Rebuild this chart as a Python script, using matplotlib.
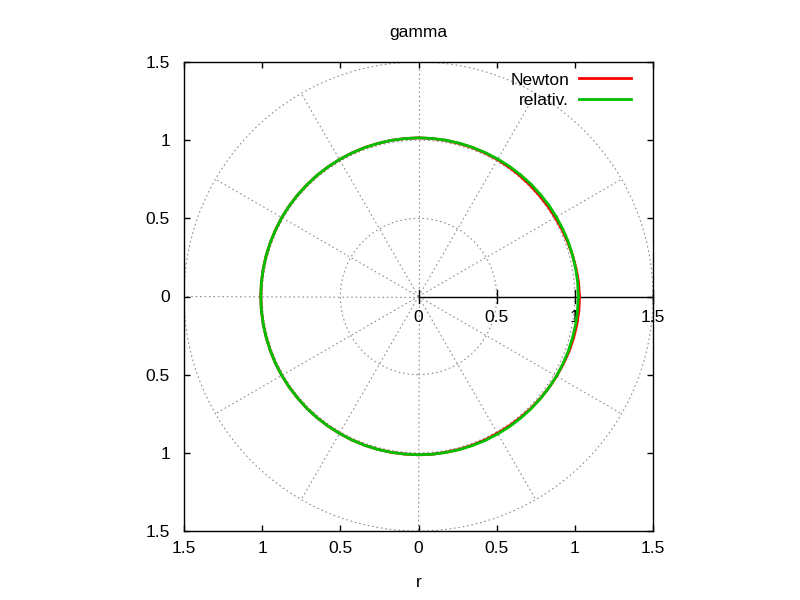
import numpy as np
import matplotlib
matplotlib.use('Agg')
import matplotlib.pyplot as plt
from matplotlib.patches import Circle
from matplotlib.ticker import FuncFormatter

# orbit samples (angle in degrees, radius), every 5 degrees
theta_deg = list(range(0, 360, 5))
r_newton = [1.030, 1.028, 1.024, 1.020, 1.016, 1.013, 1.010, 1.009, 1.008, 1.008, 1.009, 1.010,
            1.011, 1.012, 1.013, 1.013, 1.014, 1.014, 1.015, 1.014, 1.014, 1.013, 1.013, 1.012,
            1.012, 1.011, 1.011, 1.010, 1.010, 1.010, 1.010, 1.009, 1.009, 1.009, 1.009, 1.009,
            1.009, 1.009, 1.009, 1.009, 1.009, 1.010, 1.010, 1.010, 1.010, 1.011, 1.011, 1.011,
            1.011, 1.012, 1.012, 1.012, 1.012, 1.012, 1.013, 1.013, 1.012, 1.012, 1.011, 1.011,
            1.010, 1.011, 1.012, 1.014, 1.016, 1.018, 1.020, 1.022, 1.025, 1.027, 1.029, 1.030]
r_relativ = [1.022, 1.022, 1.021, 1.020, 1.020, 1.019, 1.018, 1.018, 1.017, 1.017, 1.016, 1.016,
             1.015, 1.015, 1.015, 1.015, 1.015, 1.015, 1.015, 1.014, 1.014, 1.013, 1.013, 1.012,
             1.012, 1.011, 1.011, 1.010, 1.010, 1.010, 1.010, 1.009, 1.009, 1.009, 1.009, 1.009,
             1.009, 1.009, 1.009, 1.009, 1.009, 1.010, 1.010, 1.010, 1.010, 1.011, 1.011, 1.011,
             1.011, 1.012, 1.012, 1.012, 1.012, 1.012, 1.012, 1.013, 1.013, 1.014, 1.014, 1.015,
             1.015, 1.016, 1.016, 1.017, 1.017, 1.018, 1.019, 1.019, 1.020, 1.020, 1.021, 1.021]

grid_radii = [0.5, 1.0, 1.5]
spoke_deg = [0, 30, 60, 90, 120, 150, 180, 210, 240, 270, 300, 330]
polar_ticks = [0, 0.5, 1, 1.5]
ticks = [-1.5, -1, -0.5, 0, 0.5, 1, 1.5]


def to_xy(deg, r):
    t = np.radians(np.append(deg, deg[0]))
    r = np.append(r, r[0])
    return r * np.cos(t), r * np.sin(t)


plt.rcParams['font.family'] = ['Liberation Sans', 'DejaVu Sans']
fs = 12.5

fig = plt.figure(figsize=(8, 6), dpi=100)
ax = fig.add_axes([184 / 800, 69 / 600, 469 / 800, 469 / 600])
ax.set_xlim(-1.5, 1.5)
ax.set_ylim(-1.5, 1.5)

# polar grid
gkw = dict(color='#909090', lw=0.8, linestyle=(0, (1.5, 2.5)), zorder=1)
for rr in grid_radii:
    ax.add_patch(Circle((0, 0), rr, fill=False, **gkw))
for a in spoke_deg:
    t = np.radians(a)
    ax.plot([0, 1.5 * np.cos(t)], [0, 1.5 * np.sin(t)], **gkw)

# polar axis with its ticks
ax.plot([0, 1.5], [0, 0], color='black', lw=1.0, zorder=2, clip_on=False)
for p in polar_ticks:
    ax.plot([p, p], [-0.04, 0.04], color='black', lw=1.0, zorder=2, clip_on=False)
    ax.annotate(f"{p:g}", (p, 0), xytext=(0, -15), textcoords='offset points',
                ha='center', va='center', fontsize=fs)

xn, yn = to_xy(theta_deg, r_newton)
xr, yr = to_xy(theta_deg, r_relativ)
ax.plot(xn, yn, color='#ff0000', lw=2.0, label='Newton', zorder=3)
ax.plot(xr, yr, color='#00c000', lw=2.0, label='relativ.', zorder=4)

fmt = FuncFormatter(lambda v, pos: f"{abs(v):g}")
ax.set_xticks(ticks)
ax.set_yticks(ticks)
ax.xaxis.set_major_formatter(fmt)
ax.yaxis.set_major_formatter(fmt)
ax.tick_params(direction='in', length=4.5, width=1, top=True, right=True,
               labelsize=fs, color='black')
ax.tick_params(axis='x', pad=7)
ax.tick_params(axis='y', pad=10)
for s in ax.spines.values():
    s.set_linewidth(1.0)

ax.set_title('gamma', fontsize=fs, pad=18)
ax.set_xlabel('r', fontsize=fs, labelpad=14)

leg = ax.legend(loc='upper right', bbox_to_anchor=(0.975, 1.0), markerfirst=False,
                frameon=False, handlelength=3.0, handletextpad=0.55,
                fontsize=fs, labelspacing=0.3, borderaxespad=0.2)

fig.savefig('out.png', dpi=100)
